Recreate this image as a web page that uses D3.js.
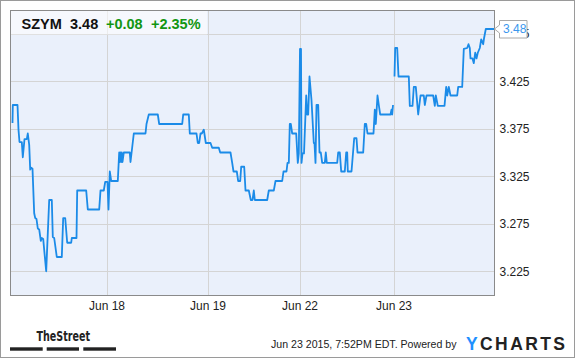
<!DOCTYPE html>
<html><head><meta charset="utf-8">
<script src="https://cdn.jsdelivr.net/npm/d3@7/dist/d3.min.js"></script>
<style>
html,body{margin:0;padding:0;background:#fff;}
svg{display:block;font-family:"Liberation Sans",Arial,sans-serif;}
</style></head>
<body>
<svg id="c" width="575" height="358"></svg>
<script>
// ---- data ----
const ticker = "SZYM";
const lastPrice = 3.48;
const change = "+0.08";
const changePct = "+2.35%";
// bar index (intraday samples, ~96 per trading day starting Jun 17 open)
const barIndex = [2.0,2.3,7.0,8.0,9.0,11.3,12.3,14.0,16.3,17.3,18.7,19.7,20.7,22.0,23.7,24.7,26.0,27.3,28.7,30.3,31.3,32.7,34.0,35.7,38.7,41.3,42.3,43.7,46.3,51.3,52.7,54.7,56.7,60.7,61.3,66.0,66.7,75.7,77.3,88.7,90.0,93.3,94.7,97.0,98.0,99.3,100.7,107.3,108.7,109.3,110.0,110.7,111.3,112.0,113.3,119.3,120.0,123.3,135.0,136.0,138.3,147.3,148.7,171.7,172.7,178.3,179.3,186.0,187.3,188.7,190.0,191.3,193.3,195.3,200.0,201.7,208.3,209.7,220.0,221.7,223.0,226.3,227.7,229.7,230.7,233.7,235.0,238.3,240.3,242.0,243.3,244.3,256.7,258.3,263.3,265.0,271.7,273.0,276.0,277.0,278.3,279.3,280.3,281.7,285.7,287.3,288.3,289.5,290.5,291.0,292.0,293.5,295.7,296.7,297.7,299.0,301.0,303.3,304.0,305.0,306.0,307.7,309.0,310.3,311.7,314.3,315.3,316.3,326.7,327.7,329.3,330.7,334.3,335.7,336.7,337.3,341.0,343.7,346.0,347.0,352.7,354.3,355.7,357.0,363.0,364.3,365.3,367.0,368.3,369.7,380.0,381.0,381.7,382.5,383.2,384.0,384.7,386.7,388.0,398.3,399.3,402.0,403.3,405.3,407.7,410.0,413.3,414.3,416.0,422.7,424.3,425.3,427.3,434.0,435.7,436.7,438.3,440.0,446.7,447.7,451.7,453.3,456.7,458.0,459.3,460.0,462.0,463.3,464.7,466.0,467.3,469.3,470.7,472.7,473.5,475.3,484.0];
const price = [3.381,3.400,3.400,3.374,3.361,3.361,3.345,3.364,3.364,3.370,3.358,3.332,3.334,3.333,3.286,3.281,3.280,3.270,3.269,3.257,3.260,3.259,3.244,3.225,3.300,3.300,3.261,3.260,3.240,3.240,3.281,3.281,3.255,3.255,3.260,3.260,3.310,3.310,3.290,3.290,3.310,3.310,3.319,3.319,3.290,3.330,3.320,3.320,3.350,3.340,3.350,3.340,3.350,3.340,3.350,3.350,3.340,3.370,3.370,3.380,3.390,3.390,3.380,3.380,3.390,3.390,3.370,3.370,3.360,3.360,3.370,3.370,3.374,3.360,3.360,3.355,3.355,3.350,3.350,3.339,3.330,3.330,3.320,3.320,3.335,3.335,3.310,3.310,3.300,3.300,3.310,3.300,3.300,3.310,3.310,3.320,3.320,3.330,3.330,3.339,3.339,3.380,3.380,3.370,3.370,3.339,3.349,3.459,3.459,3.339,3.349,3.349,3.410,3.390,3.390,3.430,3.405,3.360,3.360,3.339,3.400,3.400,3.350,3.350,3.339,3.339,3.350,3.339,3.339,3.350,3.350,3.330,3.330,3.350,3.350,3.330,3.330,3.365,3.365,3.350,3.350,3.380,3.380,3.370,3.370,3.395,3.380,3.410,3.400,3.390,3.390,3.395,3.390,3.400,null,3.430,3.460,3.460,3.430,3.430,3.399,3.399,3.419,3.419,3.390,3.410,3.410,3.400,3.410,3.410,3.399,3.410,3.399,3.399,3.419,3.410,3.419,3.410,3.410,3.419,3.419,3.459,3.460,3.464,3.460,3.449,3.449,3.444,3.455,3.449,3.455,3.460,3.469,3.464,3.470,3.480,3.480];
const dayTicks = [96, 197, 289, 383];
const dayLabels = ["Jun 18", "Jun 19", "Jun 22", "Jun 23"];
const priceTicks = [3.225, 3.275, 3.325, 3.375, 3.425, 3.475];
const footerText = "Jun 23 2015, 7:52PM EDT. Powered by";

// ---- layout ----
const W = 575, H = 358;
const L = 10.5, R = 494.5, T = 10.5, B = 295.5;
const svg = d3.select("#c");

const x = d3.scaleLinear().domain([0, 484]).range([L, R]);
const y = d3.scaleLinear().domain([3.2, 3.5]).range([B - 0.5, T - 0.5]);

// outer frame
svg.append("rect").attr("x",0.5).attr("y",0.5).attr("width",W-1).attr("height",H-1)
  .attr("fill","#fff").attr("stroke","#9a9a9a");

// plot background
svg.append("rect").attr("x",L).attr("y",T).attr("width",R-L).attr("height",B-T)
  .attr("fill","#eaf0fb");

// gridlines
const gy = svg.append("g").attr("transform",`translate(${L},0)`)
  .call(d3.axisRight(y).tickValues(priceTicks).tickSize(R-L).tickFormat(""));
gy.select(".domain").remove();
gy.selectAll("line").attr("stroke","#d4d4d4").attr("shape-rendering","crispEdges");

const gx = svg.append("g").attr("transform",`translate(0,${T})`)
  .call(d3.axisBottom(x).tickValues(dayTicks).tickSize(B-T).tickFormat(""));
gx.select(".domain").remove();
gx.selectAll("line").attr("stroke","#d4d4d4").attr("shape-rendering","crispEdges");

// header box
svg.append("rect").attr("x",L).attr("y",T).attr("width",196.5).attr("height",24)
  .attr("fill","#ffffff").attr("fill-opacity",0.55);
const hdr = svg.append("text").attr("y",28.5).attr("font-size",14.5).attr("font-weight","bold");
hdr.append("tspan").attr("x",21.5).attr("fill","#111").text(ticker);
hdr.append("tspan").attr("x",70).attr("fill","#111").text(lastPrice.toFixed(2));
hdr.append("tspan").attr("x",106).attr("fill","#129612").text(change);
hdr.append("tspan").attr("x",151).attr("fill","#129612").text(changePct);

// price line
const pts = barIndex.map((t,i)=>({t, v: price[i]}));
const line = d3.line().defined(d=>d.v!=null).x(d=>x(d.t)).y(d=>y(d.v));
svg.append("path").datum(pts).attr("d",line).attr("fill","none")
  .attr("stroke","#1b8be8").attr("stroke-width",1.8).attr("stroke-linejoin","round");

// plot border
svg.append("rect").attr("x",L).attr("y",T).attr("width",R-L).attr("height",B-T)
  .attr("fill","none").attr("stroke","#8a8a8a").attr("shape-rendering","crispEdges");

// right axis labels
const ay = svg.append("g").attr("transform",`translate(${R},0)`)
  .call(d3.axisRight(y).tickValues(priceTicks).tickSize(0).tickPadding(5).tickFormat(d3.format(".3f")));
ay.select(".domain").remove();
ay.selectAll("text").attr("font-size",12).attr("fill","#222").attr("font-family","'Liberation Sans',Arial,sans-serif");

// bottom axis labels
const ax = svg.append("g").attr("transform",`translate(0,${B})`)
  .call(d3.axisBottom(x).tickValues(dayTicks).tickSize(0).tickPadding(5.5).tickFormat((d,i)=>dayLabels[i]));
ax.select(".domain").remove();
ax.selectAll("text").attr("font-size",12).attr("fill","#222").attr("font-family","'Liberation Sans',Arial,sans-serif");

// last value tag
const lx = x(barIndex[barIndex.length-1]), ly = y(price[price.length-1]);
const tag = svg.append("g");
tag.append("path")
  .attr("d",`M${lx},${ly} L${lx+5},${ly-4} L${lx+5},${ly-8.5} L${lx+32.5},${ly-8.5} L${lx+32.5},${ly+9} L${lx+5},${ly+9} L${lx+5},${ly+4} Z`)
  .attr("fill","#fff").attr("stroke","#a8a8a8");
tag.append("text").attr("x",lx+8.5).attr("y",ly+4.3).attr("font-size",12).attr("fill","#3a97ee")
  .text(lastPrice.toFixed(2));

// footer: TheStreet logo
svg.append("text").attr("x",36.5).attr("y",340.7).attr("font-size",14).attr("font-weight","bold")
  .attr("font-family","'Liberation Sans Narrow','DejaVu Sans Condensed',Arial,sans-serif")
  .attr("textLength",53.5).attr("lengthAdjust","spacingAndGlyphs").attr("fill","#222").text("TheStreet");
[[10,42.7],[46.7,79],[83.3,116]].forEach(([a,b])=>{
  svg.append("rect").attr("x",a).attr("y",347.3).attr("width",b-a).attr("height",3.4).attr("fill","#222");
});

// footer: timestamp + YCHARTS
svg.append("text").attr("x",271).attr("y",348.3).attr("font-size",10.6).attr("fill","#222")
  .text(footerText);
const yc = svg.append("text").attr("x",466).attr("y",350).attr("font-size",17.5).attr("font-weight","bold")
  .attr("textLength",99).attr("lengthAdjust","spacing");
yc.append("tspan").attr("fill","#1e90ff").text("Y");
yc.append("tspan").attr("fill","#222").text("CHARTS");
</script>
</body></html>
